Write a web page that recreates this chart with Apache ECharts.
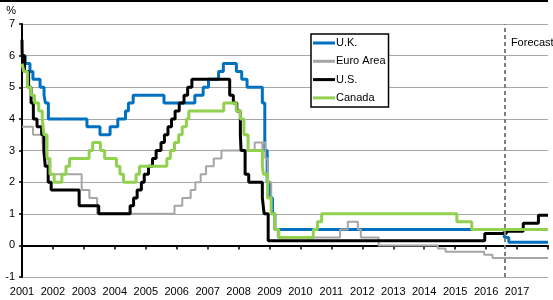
<!DOCTYPE html>
<html>
<head>
<meta charset="utf-8">
<script src="https://cdn.jsdelivr.net/npm/echarts@6/dist/echarts.min.js"></script>
<style>
  html, body { margin: 0; padding: 0; background: #fff; }
  #main { width: 553px; height: 300px; }
</style>
</head>
<body>
<div id="main"></div>
<script>
// 政策利率變動日期與數值
let ukDates = ['2001-01-01', '2001-02-08', '2001-04-05', '2001-05-10', '2001-08-02', '2001-09-18',
    '2001-10-04', '2001-11-08', '2003-02-06', '2003-07-10', '2003-11-06', '2004-02-05', '2004-05-06',
    '2004-06-10', '2004-08-05', '2005-08-04', '2006-08-03', '2006-11-09', '2007-01-11', '2007-05-10',
    '2007-07-05', '2007-12-06', '2008-02-07', '2008-04-10', '2008-10-08', '2008-11-06', '2008-12-04',
    '2009-01-08', '2009-02-05', '2009-03-05', '2016-08-04', '2016-09-25', '2018-01-01'];
let ukRates = [6.0, 5.75, 5.5, 5.25, 5.0, 4.75,
    4.5, 4.0, 3.75, 3.5, 3.75, 4.0, 4.25,
    4.5, 4.75, 4.5, 4.75, 5.0, 5.25, 5.5,
    5.75, 5.5, 5.25, 5.0, 4.5, 3.0, 2.0,
    1.5, 1.0, 0.5, 0.25, 0.1, 0.1];

let euroDates = ['2001-01-01', '2001-05-11', '2001-08-31', '2001-09-18', '2001-11-09', '2002-12-06',
    '2003-03-07', '2003-06-06', '2005-12-06', '2006-03-08', '2006-06-15', '2006-08-09', '2006-10-11',
    '2006-12-13', '2007-03-14', '2007-06-13', '2008-07-09', '2008-10-08', '2008-10-09', '2008-11-12',
    '2008-12-10', '2009-01-21', '2009-03-11', '2009-04-08', '2011-04-13', '2011-07-13', '2011-11-09',
    '2011-12-14', '2012-07-11', '2014-06-11', '2014-09-10', '2015-12-09', '2016-03-16', '2018-01-01'];
let euroRates = [3.75, 3.5, 3.25, 2.75, 2.25, 1.75,
    1.5, 1.0, 1.25, 1.5, 1.75, 2.0, 2.25,
    2.5, 2.75, 3.0, 3.25, 2.75, 3.25, 2.75,
    2.0, 1.0, 0.5, 0.25, 0.5, 0.75, 0.5,
    0.25, 0.0, -0.1, -0.2, -0.3, -0.4, -0.4];

let usDates = ['2001-01-01', '2001-01-03', '2001-01-31', '2001-03-20', '2001-04-18', '2001-05-15',
    '2001-06-27', '2001-08-21', '2001-09-17', '2001-10-02', '2001-11-06', '2001-12-11', '2002-11-06',
    '2003-06-25', '2004-06-30', '2004-08-10', '2004-09-21', '2004-11-10', '2004-12-14', '2005-02-02',
    '2005-03-22', '2005-05-03', '2005-06-30', '2005-08-09', '2005-09-20', '2005-11-01', '2005-12-13',
    '2006-01-31', '2006-03-28', '2006-05-10', '2006-06-29', '2007-09-18', '2007-10-31', '2007-12-11',
    '2008-01-22', '2008-01-30', '2008-03-18', '2008-04-30', '2008-10-08', '2008-10-29', '2008-12-16',
    '2015-12-16', '2016-08-28', '2017-03-15', '2017-09-10', '2018-01-01'];
let usRates = [6.5, 6.0, 5.5, 5.0, 4.5, 4.0,
    3.75, 3.5, 3.0, 2.5, 2.0, 1.75, 1.25,
    1.0, 1.25, 1.5, 1.75, 2.0, 2.25, 2.5,
    2.75, 3.0, 3.25, 3.5, 3.75, 4.0, 4.25,
    4.5, 4.75, 5.0, 5.25, 4.75, 4.5, 4.25,
    3.5, 3.0, 2.25, 2.0, 1.5, 1.0, 0.15,
    0.375, 0.45, 0.7, 0.95, 0.95];

let canadaDates = ['2001-01-01', '2001-01-23', '2001-03-06', '2001-04-17', '2001-05-29', '2001-07-17',
    '2001-08-28', '2001-09-17', '2001-10-23', '2001-11-27', '2002-01-15', '2002-04-16', '2002-06-04',
    '2002-07-16', '2003-03-04', '2003-04-15', '2003-07-15', '2003-09-03', '2004-01-20', '2004-03-02',
    '2004-04-13', '2004-09-08', '2004-10-19', '2005-09-07', '2005-10-18', '2005-12-06', '2006-01-24',
    '2006-03-07', '2006-04-25', '2006-05-24', '2007-07-10', '2007-12-04', '2008-01-22', '2008-03-04',
    '2008-04-22', '2008-10-08', '2008-10-21', '2008-12-09', '2009-01-20', '2009-03-03', '2009-04-21',
    '2010-06-01', '2010-07-20', '2010-09-08', '2015-01-21', '2015-07-15', '2018-01-01'];
let canadaRates = [5.75, 5.5, 5.0, 4.75, 4.5, 4.25,
    4.0, 3.5, 2.75, 2.25, 2.0, 2.25, 2.5,
    2.75, 3.0, 3.25, 3.0, 2.75, 2.5, 2.25,
    2.0, 2.25, 2.5, 2.75, 3.0, 3.25, 3.5,
    3.75, 4.0, 4.25, 4.5, 4.25, 4.0, 3.5,
    3.0, 2.5, 2.25, 1.5, 1.0, 0.5, 0.25,
    0.5, 0.75, 1.0, 0.75, 0.5, 0.5];

let yearStart = 2001;
let yearEnd = 2018;
let forecastStart = '2016-08-10';

let chart = echarts.init(document.getElementById('main'));
let font = 'Liberation Sans';

// 日期字串轉成小數年份
function toYear(str) {
    let d = new Date(str + 'T00:00:00Z');
    let y = d.getUTCFullYear();
    let start = Date.UTC(y, 0, 1);
    let end = Date.UTC(y + 1, 0, 1);
    return y + (d.getTime() - start) / (end - start);
}

function pairs(dates, rates) {
    return dates.map((d, i) => [toYear(d), rates[i]]);
}

function makeSeries(name, dates, rates, color, width) {
    return {
        name: name,
        type: 'line',
        step: 'end',
        symbol: 'none',
        color: color,
        lineStyle: { color: color, width: width },
        data: pairs(dates, rates)
    };
}

let series = [
    makeSeries('U.K.', ukDates, ukRates, '#0070c0', 3),
    makeSeries('Euro Area', euroDates, euroRates, '#a6a6a6', 2),
    makeSeries('U.S.', usDates, usRates, '#000000', 3),
    makeSeries('Canada', canadaDates, canadaRates, '#92d050', 3)
];

// 預測區間的虛線
series[0].markLine = {
    silent: true,
    symbol: 'none',
    label: { show: false },
    lineStyle: { color: '#7f7f7f', width: 2, type: [4, 3] },
    data: [{ xAxis: toYear(forecastStart) }]
};

let option = {
    animation: false,
    textStyle: { fontFamily: font },
    grid: { left: 22, right: 5, top: 24, bottom: 23, outerBoundsMode: 'none' },
    legend: {
        orient: 'vertical',
        left: 311,
        top: 34,
        icon: 'rect',
        itemWidth: 22,
        itemHeight: 3,
        itemGap: 4.3,
        padding: [2, 3, 2, 2],
        borderColor: '#000',
        borderWidth: 1.5,
        borderRadius: 0,
        backgroundColor: '#fff',
        textStyle: { fontFamily: font, fontSize: 11, color: '#000', lineHeight: 14, padding: [0, 0, 0, -4] },
        data: ['U.K.', 'Euro Area', 'U.S.', 'Canada']
    },
    xAxis: [
        {
            type: 'value',
            min: yearStart,
            max: yearEnd,
            interval: 1,
            axisLine: { onZero: true, lineStyle: { color: '#000', width: 2 } },
            axisTick: { show: true, length: 4, lineStyle: { color: '#000', width: 1.5 } },
            axisLabel: { show: false },
            splitLine: { show: false }
        },
        {
            type: 'value',
            position: 'bottom',
            min: yearStart,
            max: yearEnd,
            interval: 1,
            axisLine: { show: false, onZero: false },
            axisTick: { show: false },
            axisLabel: {
                margin: 9,
                fontFamily: font,
                fontSize: 11,
                color: '#000',
                showMaxLabel: false,
                formatter: (v) => (v >= yearEnd ? '' : String(v))
            },
            splitLine: { show: false }
        }
    ],
    yAxis: {
        type: 'value',
        min: -1,
        max: 7,
        interval: 1,
        name: '%',
        nameLocation: 'end',
        nameGap: 8,
        nameTextStyle: { fontFamily: font, fontSize: 11, color: '#000', align: 'right', padding: [0, 6, 0, 0] },
        axisLine: { show: true, lineStyle: { color: '#000', width: 2 } },
        axisTick: { show: true, length: 3, lineStyle: { color: '#000', width: 1.5 } },
        axisLabel: { margin: 7, fontFamily: font, fontSize: 11, color: '#000' },
        splitLine: { lineStyle: { color: '#a6a6a6', width: 1.2 } }
    },
    series: series
};

chart.setOption(option);

// Forecast 文字，位置由座標軸換算
let p = chart.convertToPixel({ gridIndex: 0 }, [toYear(forecastStart), 6.4]);
chart.setOption({
    graphic: [
        {
            type: 'rect',
            left: 0,
            top: 0,
            shape: { width: 548, height: 2 },
            style: { fill: '#000' }
        },
        {
            type: 'text',
            x: p[0] + 6,
            y: p[1],
            style: {
                text: 'Forecast',
                fill: '#000',
                fontFamily: font,
                fontSize: 11,
                verticalAlign: 'middle'
            }
        }
    ]
});
</script>
</body>
</html>
